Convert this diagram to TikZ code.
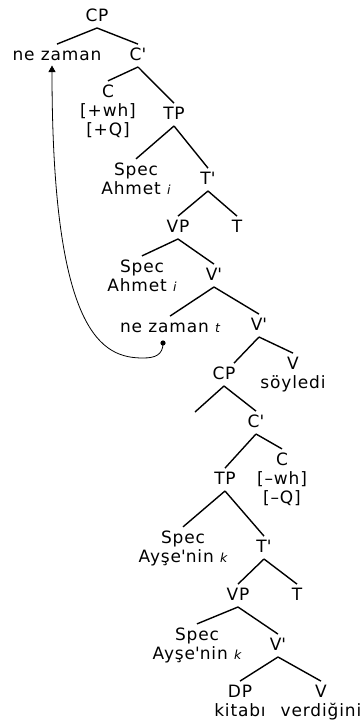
\documentclass[tikz,border=0pt]{standalone}
\usepackage{fontspec}
\usetikzlibrary{arrows.meta}
\newfontfamily\lblfam[LetterSpace=5]{DejaVu Sans}
\newcommand\lbl{\lblfam\fontsize{17pt}{19pt}\selectfont}
\newcommand\subi[1]{{\fontsize{12.5pt}{12.5pt}\selectfont\itshape #1}}
\newcommand\pr{\textquotesingle}
\tikzset{
  lab/.style={font=\lbl, anchor=base, inner xsep=0pt, inner ysep=3.5pt, outer sep=0pt},
  one/.style={lab, text height=12.4pt, text depth=0pt},
  multi/.style={lab, align=center},
  edge/.style={line width=1.4pt},
  mvarrow/.style={line width=0.8pt, -{Triangle[width=7pt,length=6.5pt]}}
}
\begin{document}
\begin{tikzpicture}[x=1pt,y=-1pt]
\useasboundingbox (0,0) rectangle (362,723);
% multi-line nodes are placed at the baseline of their last line
\node[one] (cp1) at (97,21) {CP};
\node[one] (nz) at (57,60) {ne zaman};
\node[one] (cb1) at (138,60) {C\pr};
\node[multi] (c1) at (108,135) {C\\{}[+wh]\\{}[+Q]};
\node[one] (tp1) at (174,119) {TP};
\node[multi] (spec1) at (136,194) {Spec\\Ahmet \subi{i}};
\node[one] (tb1) at (208,184) {T\pr};
\node[one] (vp1) at (178,232) {VP};
\node[one] (t1) at (237,232) {T};
\node[multi] (spec2) at (142,291) {Spec\\Ahmet \subi{i}};
\node[one] (vb1) at (214,280) {V\pr};
\node[one] (nz2) at (170,332) {ne zaman \subi{t}};
\node[one] (vb2) at (259,330) {V\pr};
\node[one] (cp2) at (224,379) {CP};
\node[multi] (v1) at (293,388) {V\\söyledi};
\coordinate (e1) at (195,412);
\node[one] (cb2) at (256,427) {C\pr};
\node[one] (tp2) at (225,484) {TP};
\node[multi] (c2) at (282,503) {C\\{}[–wh]\\{}[–Q]};
\node[multi] (spec3) at (183,562) {Spec\\Ayşe\pr nin \subi{k}};
\node[one] (tb2) at (264,552) {T\pr};
\node[one] (vp2) at (238,600) {VP};
\node[one] (t2) at (297,600) {T};
\node[multi] (spec4) at (197,659) {Spec\\Ayşe\pr nin \subi{k}};
\node[one] (vb3) at (278,650) {V\pr};
\node[multi] (dp) at (240,716) {DP\\kitabı};
\node[multi] (v2) at (321,716) {V\\verdiğini};
\coordinate (tr) at (163,343);
% branches
\draw[edge] ([yshift=-3.5pt]cp1.south) -- (nz.north);
\draw[edge] ([yshift=-3.5pt]cp1.south) -- (cb1.north);
\draw[edge] ([yshift=-3.5pt]cb1.south) -- (c1.north);
\draw[edge] ([yshift=-3.5pt]cb1.south) -- (tp1.north);
\draw[edge] ([yshift=-3.5pt]tp1.south) -- (spec1.north);
\draw[edge] ([yshift=-3.5pt]tp1.south) -- (tb1.north);
\draw[edge] ([yshift=-3.5pt]tb1.south) -- (vp1.north);
\draw[edge] ([yshift=-3.5pt]tb1.south) -- (t1.north);
\draw[edge] ([yshift=-3.5pt]vp1.south) -- (spec2.north);
\draw[edge] ([yshift=-3.5pt]vp1.south) -- (vb1.north);
\draw[edge] ([yshift=-3.5pt]vb1.south) -- (nz2.north);
\draw[edge] ([yshift=-3.5pt]vb1.south) -- (vb2.north);
\draw[edge] ([yshift=-3.5pt]vb2.south) -- ([xshift=10pt]cp2.north);
\draw[edge] ([yshift=-3.5pt]vb2.south) -- (v1.north);
\draw[edge] ([yshift=-3.5pt]cp2.south) -- (e1);
\draw[edge] ([yshift=-3.5pt]cp2.south) -- (cb2.north);
\draw[edge] ([yshift=-3.5pt]cb2.south) -- (tp2.north);
\draw[edge] ([yshift=-3.5pt]cb2.south) -- (c2.north);
\draw[edge] ([yshift=-3.5pt]tp2.south) -- (spec3.north);
\draw[edge] ([yshift=-3.5pt]tp2.south) -- (tb2.north);
\draw[edge] ([yshift=-3.5pt]tb2.south) -- (vp2.north);
\draw[edge] ([yshift=-3.5pt]tb2.south) -- (t2.north);
\draw[edge] ([yshift=-3.5pt]vp2.south) -- (spec4.north);
\draw[edge] ([yshift=-3.5pt]vp2.south) -- (vb3.north);
\draw[edge] ([yshift=-3.5pt]vb3.south) -- (dp.north);
\draw[edge] ([yshift=-3.5pt]vb3.south) -- (v2.north);
% movement arrow
\fill (tr) circle (2.6pt);
\draw[mvarrow] (tr) .. controls (163,355) and (155,358) .. (143,358)
  .. controls (103,358) and (52,336) .. ([xshift=-5pt,yshift=-2pt]nz.south);
\end{tikzpicture}
\end{document}
